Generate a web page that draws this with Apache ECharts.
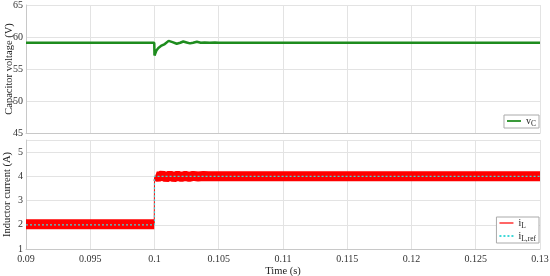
<!DOCTYPE html>
<html>
<head>
<meta charset="utf-8">
<script src="https://cdn.jsdelivr.net/npm/echarts@6/dist/echarts.min.js"></script>
<style>
  html, body { margin: 0; padding: 0; background: #fff; }
  #main { width: 550px; height: 276px; }
</style>
</head>
<body>
<div id="main"></div>
<script>
// capacitor voltage, time (s) / volts
var vcTime = [0.09, 0.09998, 0.1, 0.10015, 0.1003, 0.1005, 0.1008, 0.1011, 0.1014, 0.10173, 0.102, 0.10224, 0.1025, 0.10276, 0.103, 0.1033, 0.1036, 0.1039, 0.1043, 0.1047, 0.105, 0.13];
var vcVal  = [59.1, 59.1, 57.1, 57.9, 58.3, 58.6, 58.9, 59.4, 59.2, 58.95, 59.1, 59.3, 59.15, 59.0, 59.1, 59.25, 59.1, 59.15, 59.1, 59.15, 59.1, 59.1];

// inductor current (band centre) and its reference
var iLTime = [0.09, 0.09998, null, 0.10005, 0.1003, 0.1006, 0.1009, 0.1012, 0.1015, 0.1018, 0.1021, 0.1024, 0.1027, 0.103, 0.1034, 0.1038, 0.1042, 0.105, 0.13];
var iLVal  = [2.02, 2.02, null, 4.02, 3.97, 4.05, 3.95, 4.04, 3.96, 4.03, 3.97, 4.02, 3.98, 4.02, 3.99, 4.01, 4.0, 4.0, 4.0];
var iStepTime = [0.09998, 0.1, 0.1];
var iStepVal  = [2.02, 2.02, 4.02];
var refTime = [0.09, 0.1, 0.1, 0.13];
var refVal  = [2.0, 2.0, 4.0, 4.0];

function pairs(t, v) {
  var out = [];
  for (var i = 0; i < t.length; i++) {
    if (t[i] === null) out.push('-');
    else out.push([t[i], v[i]]);
  }
  return out;
}

var font = 'Liberation Serif';
var myChart = echarts.init(document.getElementById('main'));

var gridLine = { show: true, lineStyle: { color: '#e3e3e3', width: 1 } };
var axisLine = { show: true, onZero: false, lineStyle: { color: '#c8c8c8', width: 1 } };

function xAxisCfg(idx, labels) {
  return {
    type: 'value', gridIndex: idx, min: 0.09, max: 0.13, interval: 0.005,
    axisLine: axisLine, axisTick: { show: false }, splitLine: gridLine,
    axisLabel: {
      show: labels, color: '#333', fontFamily: font, fontSize: 10, margin: 5,
      formatter: function (v) { return String(+v.toFixed(3)); }
    },
    name: labels ? 'Time (s)' : '', nameLocation: 'middle', nameGap: 17,
    nameMoveOverlap: false,
    nameTextStyle: { color: '#222', fontFamily: font, fontSize: 10.5 }
  };
}

var rich = {
  n: { fontFamily: font, fontSize: 10, color: '#222' },
  s: { fontFamily: font, fontSize: 7.5, color: '#222', padding: [6, 0, 0, 0] }
};

var dashIcon = 'path://M0,0h2v2h-2zM4,0h2v2h-2zM8,0h2v2h-2zM12,0h2v2h-2z';
var lineIcon = 'path://M0,0h16v2h-16z';

var option = {
  animation: false,
  grid: [
    { left: 26, top: 5, width: 514, height: 128, outerBoundsMode: 'none', containLabel: false },
    { left: 26, top: 140, width: 514, height: 109, outerBoundsMode: 'none', containLabel: false }
  ],
  xAxis: [xAxisCfg(0, false), xAxisCfg(1, true)],
  yAxis: [
    {
      type: 'value', gridIndex: 0, min: 45, max: 65, interval: 5,
      axisLine: axisLine, axisTick: { show: false }, splitLine: gridLine,
      axisLabel: { color: '#333', fontFamily: font, fontSize: 10, margin: 3 },
      name: 'Capacitor voltage (V)', nameLocation: 'middle', nameGap: 11,
      nameMoveOverlap: false,
      nameTextStyle: { color: '#222', fontFamily: font, fontSize: 10.5 }
    },
    {
      type: 'value', gridIndex: 1, min: 1, max: 5.5, interval: 1,
      axisLine: axisLine, axisTick: { show: false }, splitLine: gridLine,
      axisLabel: { color: '#333', fontFamily: font, fontSize: 10, margin: 3,
        showMaxLabel: false },
      name: 'Inductor current (A)', nameLocation: 'middle', nameGap: 13,
      nameMoveOverlap: false,
      nameTextStyle: { color: '#222', fontFamily: font, fontSize: 10.5 }
    }
  ],
  legend: [
    {
      right: 11, top: 115, orient: 'vertical',
      backgroundColor: '#fff', borderColor: '#aaa', borderWidth: 1, borderRadius: 0,
      padding: [1, 3, 0, 3], itemWidth: 14, itemHeight: 2, itemGap: 0,
      data: [{ name: 'vC', icon: lineIcon }],
      formatter: function () { return '{n|v}{s|C}'; },
      textStyle: { rich: rich }
    },
    {
      right: 11, top: 217, orient: 'vertical',
      backgroundColor: '#fff', borderColor: '#aaa', borderWidth: 1, borderRadius: 0,
      padding: [1, 3, 0, 3], itemWidth: 14, itemHeight: 2, itemGap: 1,
      data: [
        { name: 'iL', icon: lineIcon, itemStyle: { color: '#ff5050' } },
        { name: 'iLref', icon: dashIcon }
      ],
      formatter: function (name) {
        return name === 'iL' ? '{n|i}{s|L}' : '{n|i}{s|L,ref}';
      },
      textStyle: { rich: rich }
    }
  ],
  series: [
    {
      name: 'vC', type: 'line', xAxisIndex: 0, yAxisIndex: 0,
      data: pairs(vcTime, vcVal), showSymbol: false, symbol: 'none',
      lineStyle: { color: '#1e8c1e', width: 2.5 }, itemStyle: { color: '#1e8c1e' }
    },
    {
      name: 'iL', type: 'line', xAxisIndex: 1, yAxisIndex: 1,
      data: pairs(iLTime, iLVal), symbol: 'none', connectNulls: false,
      lineStyle: { color: '#ff0000', width: 10, cap: 'butt' }, itemStyle: { color: '#ff0000' }
    },
    {
      name: 'iL step', type: 'line', xAxisIndex: 1, yAxisIndex: 1,
      data: pairs(iStepTime, iStepVal), symbol: 'none',
      lineStyle: { color: '#ff0000', width: 1 }
    },
    {
      name: 'iLref', type: 'line', xAxisIndex: 1, yAxisIndex: 1,
      data: pairs(refTime, refVal), symbol: 'none', z: 5,
      lineStyle: { color: '#40d8d8', width: 1.2, type: [2, 2] }, itemStyle: { color: '#40d8d8' }
    }
  ]
};
myChart.setOption(option);
</script>
</body>
</html>
